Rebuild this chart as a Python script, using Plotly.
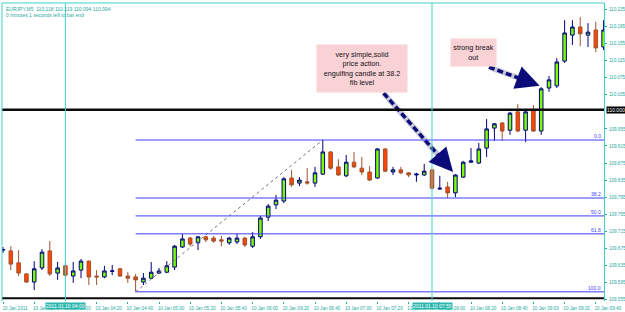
import plotly.graph_objects as go

# ---- data (EURJPY M5, 10 Jan 2011, bars from 03:20 to 09:45) ----
opens = [109.671, 109.669, 109.641, 109.615, 109.596, 109.629, 109.669, 109.617, 109.634, 109.610,
         109.624, 109.645, 109.610, 109.608, 109.621, 109.627, 109.610, 109.608, 109.596, 109.605,
         109.617, 109.619, 109.631, 109.678, 109.699, 109.688, 109.702, 109.699, 109.695, 109.688,
         109.690, 109.699, 109.680, 109.702, 109.748, 109.777, 109.786, 109.840, 109.828, 109.831,
         109.828, 109.849, 109.901, 109.866, 109.845, 109.877, 109.863, 109.854, 109.840, 109.908,
         109.854, 109.859, 109.852, 109.847, 109.847, 109.859, 109.814, 109.819, 109.805, 109.842,
         109.877, 109.875, 109.910, 109.957, 109.969, 109.952, 109.995, 109.952, 109.999, 109.950,
         110.051, 110.056, 110.114, 110.175, 110.194, 110.175, 110.187, 110.147]
highs = [109.678, 109.680, 109.671, 109.617, 109.645, 109.673, 109.692, 109.643, 109.643, 109.643,
         109.650, 109.647, 109.624, 109.634, 109.636, 109.629, 109.619, 109.615, 109.617, 109.643,
         109.629, 109.645, 109.683, 109.709, 109.702, 109.704, 109.704, 109.704, 109.704, 109.702,
         109.709, 109.702, 109.713, 109.751, 109.779, 109.800, 109.842, 109.859, 109.842, 109.863,
         109.866, 109.929, 109.903, 109.884, 109.894, 109.901, 109.889, 109.868, 109.910, 109.910,
         109.866, 109.866, 109.854, 109.852, 109.873, 109.861, 109.845, 109.831, 109.849, 109.880,
         109.910, 109.922, 109.978, 109.969, 109.971, 109.995, 110.013, 109.997, 110.011, 110.053,
         110.079, 110.121, 110.210, 110.210, 110.217, 110.203, 110.206, 110.210]
lows = [109.664, 109.624, 109.610, 109.594, 109.577, 109.624, 109.610, 109.601, 109.608, 109.594,
        109.605, 109.589, 109.589, 109.605, 109.612, 109.608, 109.594, 109.573, 109.589, 109.603,
        109.615, 109.617, 109.624, 109.676, 109.680, 109.671, 109.690, 109.688, 109.680, 109.683,
        109.685, 109.678, 109.676, 109.697, 109.739, 109.767, 109.781, 109.819, 109.821, 109.824,
        109.819, 109.847, 109.859, 109.845, 109.842, 109.863, 109.847, 109.833, 109.838, 109.854,
        109.847, 109.849, 109.842, 109.831, 109.845, 109.814, 109.812, 109.793, 109.795, 109.840,
        109.875, 109.873, 109.889, 109.927, 109.927, 109.941, 109.948, 109.924, 109.948, 109.941,
        110.042, 110.051, 110.110, 110.152, 110.149, 110.147, 110.135, 110.140]
closes = [109.672, 109.638, 109.617, 109.596, 109.627, 109.666, 109.615, 109.629, 109.612, 109.622,
          109.645, 109.608, 109.608, 109.622, 109.622, 109.610, 109.605, 109.601, 109.605, 109.619,
          109.622, 109.634, 109.680, 109.697, 109.685, 109.702, 109.695, 109.692, 109.692, 109.699,
          109.699, 109.683, 109.702, 109.746, 109.774, 109.788, 109.838, 109.824, 109.835, 109.828,
          109.852, 109.901, 109.863, 109.847, 109.877, 109.866, 109.854, 109.835, 109.908, 109.856,
          109.859, 109.852, 109.847, 109.849, 109.856, 109.816, 109.816, 109.805, 109.847, 109.877,
          109.880, 109.908, 109.955, 109.967, 109.950, 109.992, 109.950, 109.995, 109.950, 110.049,
          110.070, 110.112, 110.180, 110.194, 110.178, 110.182, 110.145, 110.187]

tick_every = 4
time_labels = ["10 Jan 2011", "10 Jan 03:40", "10 Jan 04:00", "10 Jan 04:20", "10 Jan 04:40",
               "10 Jan 05:00", "10 Jan 05:20", "10 Jan 05:40", "10 Jan 06:00", "10 Jan 06:20",
               "10 Jan 06:40", "10 Jan 07:00", "10 Jan 07:20", "10 Jan 07:40", "10 Jan 08:00",
               "10 Jan 08:20", "10 Jan 08:40", "10 Jan 09:00", "10 Jan 09:20", "10 Jan 09:40"]
price_ticks = [109.555, 109.595, 109.635, 109.675, 109.715, 109.755, 109.795, 109.835, 109.875,
               109.915, 109.955, 110.035, 110.075, 110.115, 110.155, 110.195, 110.235]
price_tick_labels = ["109.555", "109.595", "109.635", "109.675", "109.715", "109.755", "109.795",
                     "109.835", "109.875", "109.915", "109.955", "110.035", "110.075", "110.115",
                     "110.155", "110.195", "110.235"]

hline_level = 110.000
bottom_line_level = 109.558
fib_start_bar, fib_end_bar = 17, 41
fib_ratios = [0.0, 38.2, 50.0, 61.8, 100.0]
vline_bars = [8, 55]
vline_labels = ["2011.01.10 04:00", "2011.01.10 07:55"]
title_line1 = "EURJPY,M5  110.118 110.119 110.094 110.094"
title_line2 = "0 minutes 1 seconds left to bar end"

note1 = "very simple,solid<br>price action.<br>engulfing candle at 38.2<br>fib level"
note2 = "strong break<br>out"
# arrow (start bar, start price, tip bar, tip price)
arrow1 = (48.8, 110.039, 57.7, 109.854)
arrow2 = (62.3, 110.100, 68.8, 110.056)
note1_pos = (46.0, 110.097)
note2_pos = (60.3, 110.135)

# ---- figure ----
n = len(opens)
xs = list(range(n))
x_range = [-0.13, 77.05]
y_range = [109.5515, 110.2503]

TEAL_TXT = "#1fa9a1"
TEAL_LINE = "#3fd3cb"
FIB = "#3d3dff"
FONT = "Liberation Sans"

fig = go.Figure()
fig.add_trace(go.Candlestick(
    x=xs, open=opens, high=highs, low=lows, close=closes,
    increasing=dict(line=dict(color="#000080", width=1), fillcolor="#7CFC00"),
    decreasing=dict(line=dict(color="#a0522d", width=1), fillcolor="#FF4500"),
    whiskerwidth=0, hoverinfo="skip", showlegend=False))

# dotted trendline used for fib
fig.add_trace(go.Scatter(
    x=[fib_start_bar, fib_end_bar], y=[lows[fib_start_bar], highs[fib_end_bar]],
    mode="lines", line=dict(color="#777777", width=1, dash="dot"),
    hoverinfo="skip", showlegend=False))

shapes = []
annotations = []

# fib levels
f_hi = highs[fib_end_bar]
f_lo = lows[fib_start_bar]
for r in fib_ratios:
    lvl = f_hi - (f_hi - f_lo) * r / 100.0
    shapes.append(dict(type="line", xref="x", yref="y", x0=fib_start_bar, x1=x_range[1],
                       y0=lvl, y1=lvl, line=dict(color=FIB, width=1)))
    annotations.append(dict(xref="paper", yref="y", x=0.998, y=lvl, xanchor="right", yanchor="bottom",
                            text=f"{r:.1f}", showarrow=False, yshift=-1,
                            font=dict(family=FONT, size=5, color=FIB)))

# black horizontal lines
for lvl, w in [(hline_level, 2.6), (bottom_line_level, 2.2)]:
    shapes.append(dict(type="line", xref="paper", yref="y", x0=0, x1=1, y0=lvl, y1=lvl,
                       line=dict(color="#0a0a0a", width=w)))

# vertical cyan lines
for b, lab in zip(vline_bars, vline_labels):
    shapes.append(dict(type="line", xref="x", yref="paper", x0=b, x1=b, y0=0, y1=1,
                       line=dict(color=TEAL_LINE, width=1)))
    annotations.append(dict(xref="x", yref="paper", x=b, y=0, yanchor="top", xanchor="center",
                            yshift=-1, text=lab, showarrow=False, bgcolor="#2ab7ae",
                            borderpad=0, font=dict(family=FONT, size=5, color="white")))

# frame left/top
shapes.append(dict(type="line", xref="paper", yref="paper", x0=0, x1=0, y0=0, y1=1,
                   line=dict(color=TEAL_LINE, width=1)))
shapes.append(dict(type="line", xref="paper", yref="paper", x0=0, x1=1, y0=1, y1=1,
                   line=dict(color=TEAL_LINE, width=1)))

# price label for 110.000
annotations.append(dict(xref="paper", yref="y", x=1, y=hline_level, xanchor="left", yanchor="middle",
                        xshift=2, text=f"{hline_level:.3f}", showarrow=False, bgcolor="#000000",
                        borderpad=0, font=dict(family=FONT, size=5, color="white")))

# title lines
annotations.append(dict(xref="paper", yref="paper", x=0.004, y=0.997, xanchor="left", yanchor="top",
                        text=title_line1, showarrow=False,
                        font=dict(family=FONT, size=5, color=TEAL_TXT)))
annotations.append(dict(xref="paper", yref="paper", x=0.004, y=0.977, xanchor="left", yanchor="top",
                        text=title_line2, showarrow=False,
                        font=dict(family=FONT, size=5, color=TEAL_TXT)))

# notes
annotations.append(dict(xref="x", yref="y", x=note1_pos[0], y=note1_pos[1], text=note1, showarrow=False,
                        bgcolor="#f9d2d6", width=88, height=45, align="center",
                        font=dict(family=FONT, size=7.2, color="#111111")))
annotations.append(dict(xref="x", yref="y", x=note2_pos[0], y=note2_pos[1], text=note2, showarrow=False,
                        bgcolor="#f9d2d6", width=43, height=25, align="center",
                        font=dict(family=FONT, size=7.2, color="#111111")))

# arrows (dashed body + head)
for (xa, ya, xb, yb) in [arrow1, arrow2]:
    xm = xa + (xb - xa) * 0.84
    ym = ya + (yb - ya) * 0.84
    fig.add_trace(go.Scatter(x=[xa, xm], y=[ya, ym], mode="lines",
                             line=dict(color="#c8c8d8", width=5.5), hoverinfo="skip", showlegend=False))
    fig.add_trace(go.Scatter(x=[xa, xm], y=[ya, ym], mode="lines",
                             line=dict(color="#0b0b7a", width=3.5, dash="6px,3px"),
                             hoverinfo="skip", showlegend=False))
    annotations.append(dict(xref="x", yref="y", axref="x", ayref="y", x=xb, y=yb, ax=xm, ay=ym,
                            text="", showarrow=True, arrowhead=2, arrowsize=1.35, arrowwidth=3.5,
                            arrowcolor="#0b0b7a"))

fig.update_layout(
    width=625, height=312,
    margin=dict(l=2, r=21, t=3, b=11, autoexpand=False),
    paper_bgcolor="white", plot_bgcolor="white",
    shapes=shapes, annotations=annotations,
    showlegend=False, hovermode=False, boxgap=0.35,
    xaxis=dict(range=x_range, rangeslider=dict(visible=False), showgrid=False, zeroline=False,
               tickmode="array", tickvals=xs[::tick_every], ticktext=time_labels, tickangle=0,
               automargin=False,
               ticks="outside", ticklen=2, tickcolor=TEAL_TXT, ticklabelshift=12, ticklabelstandoff=0,
               tickfont=dict(family=FONT, size=4.6, color=TEAL_TXT), showline=False),
    yaxis=dict(range=y_range, side="right", showgrid=False, zeroline=False, automargin=False,
               tickmode="array", tickvals=price_ticks, ticktext=price_tick_labels,
               ticks="outside", ticklen=2, tickcolor=TEAL_TXT, ticklabelstandoff=1,
               tickfont=dict(family=FONT, size=4.6, color=TEAL_TXT),
               showline=True, linecolor=TEAL_LINE, linewidth=1),
)

fig.write_html("out.html")
